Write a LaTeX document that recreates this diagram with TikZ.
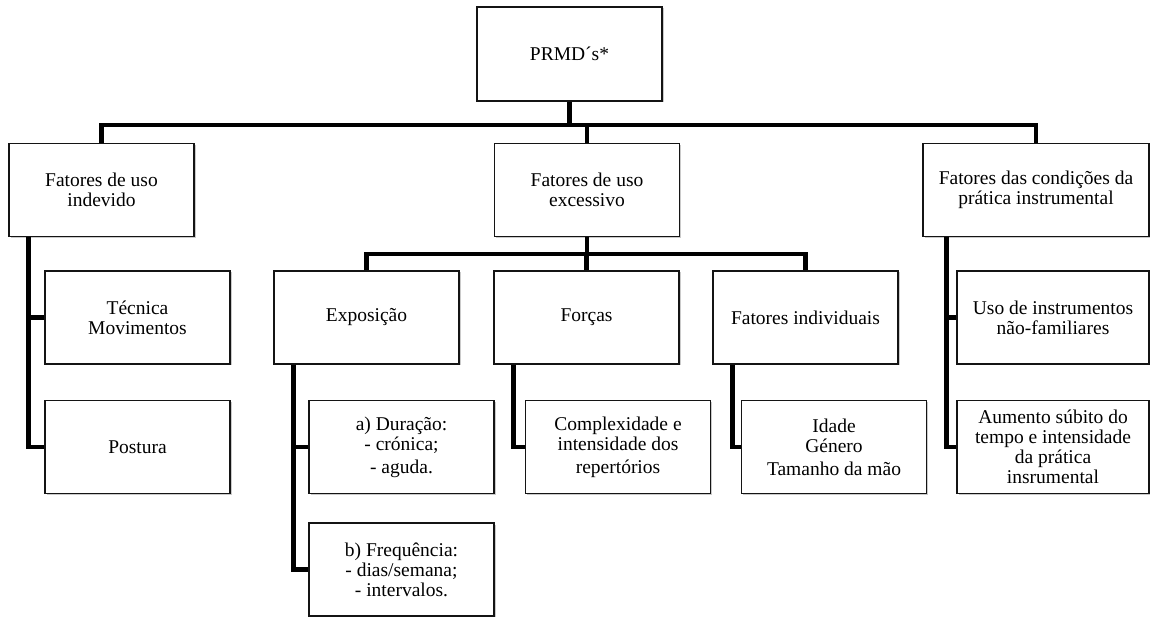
\documentclass[tikz,border=0pt]{standalone}
\usepackage{fontspec}
\setmainfont{Liberation Serif}
\usepackage{xcolor}
\usepackage{tikz}
\usetikzlibrary{calc, shadows}
\definecolor{mydark}{RGB}{20,20,20}
\definecolor{myshade}{RGB}{150,150,150}
\tikzset{
  box/.style={rectangle, draw=mydark, fill=white, align=center,
    minimum width=185pt, minimum height=93pt, inner sep=2pt,
    font=\fontsize{19.5}{20}\selectfont, line width=1.2pt,
    drop shadow={shadow xshift=1.5pt, shadow yshift=-1.5pt, fill=myshade, opacity=0.5}},
  conn/.style={line width=4.5pt, color=black}
}
\begin{document}
\begin{tikzpicture}[x=1pt, y=1pt,
  widebox/.style={box, minimum width=226pt},
  sidebox/.style={box, minimum width=192pt}]

  \useasboundingbox (0,0) rectangle (1150,616);

  % top level
  \node[box, minimum height=94pt] (prmd) at (569.5,562) {PRMD´s*};

  % first level
  \node[box] (ind) at (101.5,426) {Fatores de uso\\indevido};
  \node[box] (exc) at (587,426) {Fatores de uso\\excessivo};
  \node[widebox] (cond) at (1036,426) {Fatores das condições da\\prática instrumental};

  % second level
  \node[box] (tec) at (137.5,298.5) {Técnica\\Movimentos};
  \node[box] (pos) at (137.5,169) {Postura};
  \node[box] (expo) at (366.5,298.5) {Exposição};
  \node[box] (forc) at (586.5,298.5) {Forças};
  \node[box] (indiv) at (805.5,298.5) {Fatores individuais};
  \node[sidebox] (uso) at (1053,298.5) {Uso de instrumentos\\não-familiares};
  \node[sidebox] (aum) at (1053,169) {Aumento súbito do\\tempo e intensidade\\da prática\\insrumental};

  % third level
  \node[box] (dur) at (401.5,169) {a) Duração:\\- crónica;\\[3pt]- aguda.};
  \node[box] (freq) at (401.5,46.5) {b) Frequência:\\- dias/semana;\\- intervalos.};
  \node[box] (comp) at (618,169) {Complexidade e\\intensidade dos\\[3pt]repertórios};
  \node[box] (idade) at (834,169) {Idade\\Género\\[3pt]Tamanho da mão};

  \coordinate (bar1) at (0,491);
  \coordinate (bar2) at (0,362);

  \draw[conn] (prmd.south) -- (prmd.south |- bar1);
  \draw[conn] (ind.north) -- (ind.north |- bar1) -- (cond.north |- bar1) -- (cond.north);
  \draw[conn] (exc.north |- bar1) -- (exc.north);

  \draw[conn] (exc.south) -- (exc.south |- bar2);
  \draw[conn] (expo.north) -- (expo.north |- bar2) -- (indiv.north |- bar2) -- (indiv.north);
  \draw[conn] (forc.north |- bar2) -- (forc.north);

  \draw[conn] ($(ind.south west)+(20,0)$) |- (tec.west);
  \draw[conn] ($(ind.south west)+(20,0)$) |- (pos.west);
  \draw[conn] ($(expo.south west)+(20,0)$) |- (dur.west);
  \draw[conn] ($(expo.south west)+(20,0)$) |- (freq.west);
  \draw[conn] ($(forc.south west)+(20,0)$) |- (comp.west);
  \draw[conn] ($(indiv.south west)+(20,0)$) |- (idade.west);
  \draw[conn] ($(cond.south west)+(24,0)$) |- (uso.west);
  \draw[conn] ($(cond.south west)+(24,0)$) |- (aum.west);

\end{tikzpicture}
\end{document}
